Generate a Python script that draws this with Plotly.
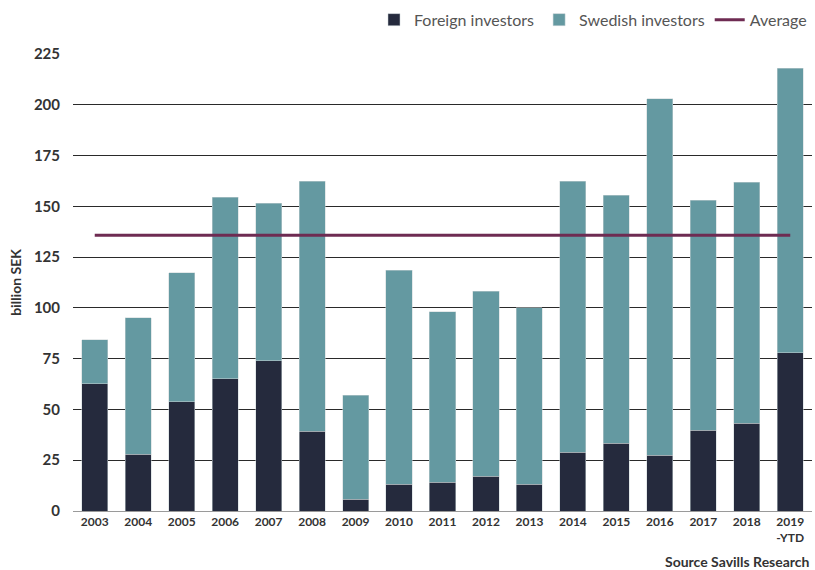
import plotly.graph_objects as go

years = ["2003", "2004", "2005", "2006", "2007", "2008", "2009", "2010", "2011",
         "2012", "2013", "2014", "2015", "2016", "2017", "2018", "2019<br>-YTD"]
foreign = [62.7, 28.0, 53.9, 65.2, 74.0, 39.2, 5.9, 13.2, 14.2, 17.2, 13.2, 28.9, 33.3, 27.5, 39.7, 43.1, 77.9]
total = [84.3, 95.1, 117.2, 154.4, 151.5, 162.3, 56.9, 118.6, 98.0, 108.3, 100.0, 162.3, 155.4, 202.9, 152.9, 161.8, 218.1]
swedish = [round(t - f, 1) for t, f in zip(total, foreign)]
average = [135.8] * len(years)
y_ticks = [0, 25, 50, 75, 100, 125, 150, 175, 200, 225]

C_FOR = "#252a3d"
C_SWE = "#6499a1"
C_AVG = "#6e2b52"
FONT = "Lato"

fig = go.Figure()
fig.add_trace(go.Bar(x=years, y=foreign, name="Foreign investors", marker_color=C_FOR,
                     marker_line=dict(color="#c9d3d6", width=0.5)))
fig.add_trace(go.Bar(x=years, y=swedish, name="Swedish investors", marker_color=C_SWE,
                     marker_line=dict(color="#c9d3d6", width=0.5)))
fig.add_trace(go.Scatter(x=years, y=average, name="Average", mode="lines",
                         line=dict(color=C_AVG, width=3)))

fig.update_layout(
    width=815, height=570,
    margin=dict(l=73, r=3, t=52, b=59),
    barmode="stack", bargap=0.4,
    plot_bgcolor="white", paper_bgcolor="white",
    font=dict(family=FONT, color="#333333"),
    legend=dict(orientation="h", x=1.0, xanchor="right", y=1.075, yanchor="middle",
                font=dict(size=16, color="#555555", family=FONT), traceorder="normal",
                itemwidth=30, tracegroupgap=0),
    xaxis=dict(tickfont=dict(size=12, color="#333333", family=FONT, weight="bold"),
               showgrid=False, ticks="", showline=True, linecolor="#9a9a9a", linewidth=1),
    yaxis=dict(range=[0, 225], tickvals=y_ticks,
               tickfont=dict(size=15, color="#333333", family=FONT, weight="bold"),
               showgrid=True, gridcolor="#2a2a2a", gridwidth=1,
               zeroline=True, zerolinecolor="#9a9a9a", zerolinewidth=1,
               ticks="", ticklabelstandoff=12,
               title=dict(text="billion SEK", font=dict(size=14, color="#333333", family=FONT, weight="bold"),
                          standoff=8)),
    annotations=[dict(text="<b>Source Savills Research</b>", x=1.0, xref="paper", xanchor="right",
                      y=-0.111, yref="paper", yanchor="middle", showarrow=False,
                      font=dict(size=14, color="#333333", family=FONT))],
)

fig.write_html("out.html")
